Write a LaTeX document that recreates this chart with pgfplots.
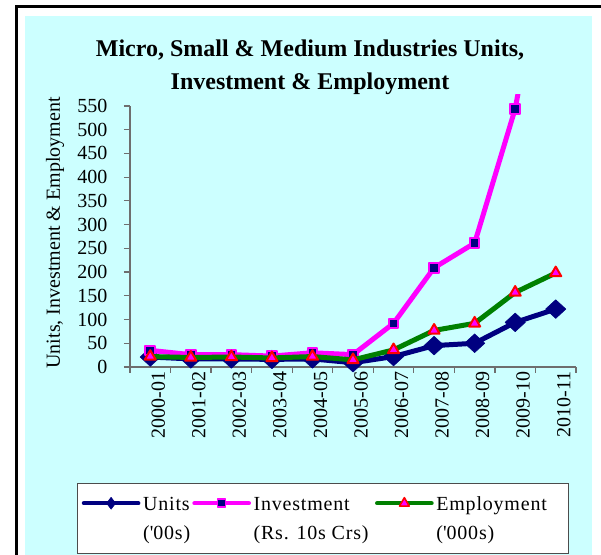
\documentclass[border=0pt]{standalone}
\usepackage{pgfplots}
\pgfplotsset{compat=1.18}
\usepackage{fontspec}
\setmainfont{Liberation Serif}
\newfontfamily\legfont[LetterSpace=4]{Liberation Serif}
\definecolor{bgcyan}{HTML}{CCFFFF}
\definecolor{navy}{HTML}{000080}
\definecolor{mag}{HTML}{FF00FF}
\definecolor{grn}{HTML}{008000}
\definecolor{axgray}{HTML}{6E6E6E}

% two-line legend text: the second line hangs below the first, taking no room
\newcommand{\twolines}[2]{\rlap{\raisebox{-21.5pt}[0pt][0pt]{#2}}#1}

\begin{document}
\begin{tikzpicture}
% frame and background, in pixel units of the reference (1px = 0.75pt)
\begin{scope}[x=0.75pt, y=0.75pt]
  \path[use as bounding box] (0,0) rectangle (601,555);
  \begin{scope}
    \clip (0,0) rectangle (601,555);
    \fill[white] (0,0) rectangle (601,555);
    \draw[line width=2.25pt] (16,-5) -- (16,548) -- (610,548);
    \fill[bgcyan] (25,-5) rectangle (592,539);
  \end{scope}
  \node[font=\bfseries\fontsize{18}{20}\selectfont] at (310,505) {Micro, Small \& Medium Industries Units,};
  \node[font=\bfseries\fontsize{18}{20}\selectfont] at (310,471) {Investment \& Employment};
  \node[rotate=90, font=\fontsize{15}{18}\selectfont] at (55,322) {Units, Investment \& Employment};
  % legend box
  \draw[gray!60!black, line width=0.6pt, fill=white] (77.5,72) rectangle (568,2);
\end{scope}

\begin{axis}[
    at={(97.5pt,141pt)}, anchor=south west,
    scale only axis, width=334.5pt, height=204pt,
    xmin=0.5, xmax=11.5, ymin=0, ymax=573,
    axis x line*=bottom, axis y line*=left,
    axis line style={axgray, line width=0.9pt},
    y axis line style={shorten >=8.25pt},
    tick align=outside, major tick length=4.5pt,
    tick style={axgray, line width=0.9pt},
    ytick={0,50,...,550},
    yticklabel style={xshift=-9pt},
    xtick={0.5,1.5,...,11.5}, xticklabels={},
    extra x ticks={1,2,...,11},
    extra x tick labels={2000-01,2001-02,2002-03,2003-04,2004-05,2005-06,2006-07,2007-08,2008-09,2009-10,2010-11},
    extra x tick style={major tick length=0pt,
      xticklabel style={rotate=90, anchor=east, yshift=-6pt}},
    tick label style={font=\fontsize{15}{18}\selectfont},
    /pgf/number format/assume math mode=true,
    clip mode=individual,
    legend columns=3,
    legend style={at={(-0.1177,-0.476)}, anchor=north west, draw=none, fill=none,
      font=\legfont\fontsize{15}{21}\selectfont,
      inner ysep=0pt, nodes={inner ysep=0pt},
      cells={anchor=base west},
      /tikz/every even column/.append style={column sep=0pt}},
  ]
  \addplot[navy, line width=3.75pt, line join=round, mark=diamond*, mark size=7pt,
    mark options={xscale=1.45, fill=navy, draw=navy, line width=0.4pt},
    legend image code/.code={
      \draw[navy, line width=3pt, line cap=round] (0pt,5.5pt) -- (41pt,5.5pt);
      \draw[navy] plot[mark=diamond*, mark size=4.5pt, mark options={fill=navy, line width=0.4pt}] coordinates {(20.5pt,5.5pt)};}]
    coordinates {(1,21) (2,17) (3,17) (4,16) (5,17) (6,9) (7,22) (8,45) (9,50) (10,94) (11,122)};
  \addlegendentry{\twolines{Units}{(\textquotesingle 00s)}}

  \addplot[mag, line width=3.75pt, line join=round, mark=square*, mark size=3.6pt,
    mark options={fill=navy, draw=mag, line width=1.5pt},
    legend image code/.code={
      \draw[mag, line width=3pt, line cap=round] (0pt,5.5pt) -- (41pt,5.5pt);
      \draw[mag] plot[mark=square*, mark size=3pt, mark options={fill=navy, draw=mag, line width=1.2pt}] coordinates {(20.5pt,5.5pt)};}]
    coordinates {(1,35) (2,26) (3,26) (4,23) (5,30) (6,26) (7,92) (8,209) (9,261) (10,544) (11,1000)};
  \addlegendentry{\twolines{Investment}{(Rs. 10s Crs)}\hspace{17pt}\null}

  \addplot[grn, line width=3.75pt, line join=round, mark=triangle*, mark size=4.8pt,
    mark options={fill=mag, draw=red, line width=1.5pt},
    legend image code/.code={
      \draw[grn, line width=3pt, line cap=round] (0pt,5.5pt) -- (41pt,5.5pt);
      \draw[grn] plot[mark=triangle*, mark size=4.2pt, mark options={fill=mag, draw=red, line width=1.2pt}] coordinates {(20.5pt,5.5pt)};}]
    coordinates {(1,22) (2,20) (3,21) (4,19) (5,22) (6,15) (7,36) (8,77) (9,92) (10,157) (11,198)};
  \addlegendentry{\twolines{Employment}{(\textquotesingle 000s)}}
\end{axis}

\pgfresetboundingbox
\path[use as bounding box] (0,0) rectangle (450.75pt,416.25pt);
\end{tikzpicture}
\end{document}
